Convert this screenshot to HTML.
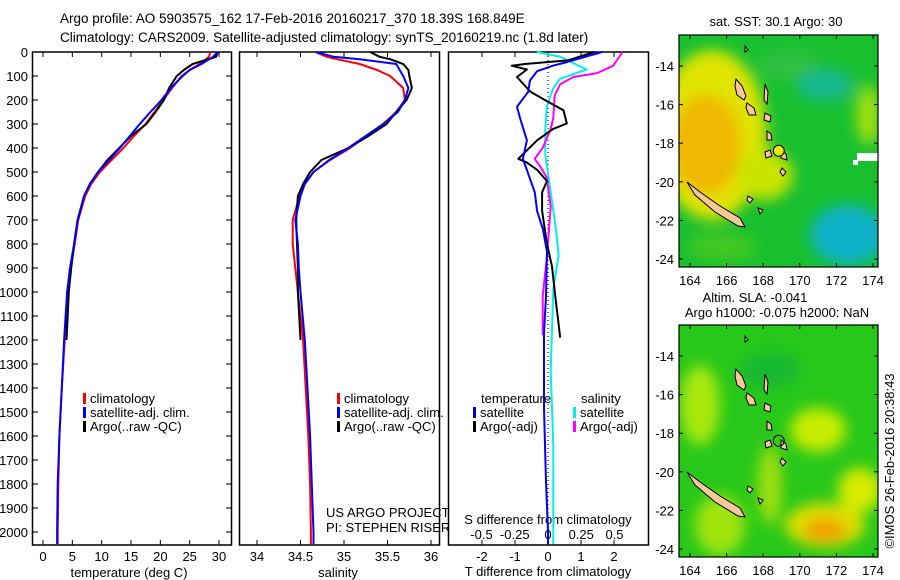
<!DOCTYPE html>
<html><head><meta charset="utf-8">
<style>
html,body{margin:0;padding:0;background:#fff;}
svg{display:block;font-family:"Liberation Sans",sans-serif;}
text{fill:#000;}
</style></head>
<body>
<svg id="fig" width="900" height="580" viewBox="0 0 900 580" xmlns="http://www.w3.org/2000/svg">
<defs>
<filter id="blur6" x="-50%" y="-50%" width="200%" height="200%"><feGaussianBlur stdDeviation="7"/></filter>
<clipPath id="clipMap1"><rect x="679" y="35" width="199" height="232"/></clipPath>
<clipPath id="clipMap2"><rect x="679" y="325" width="199" height="232"/></clipPath>
</defs>
<text x="60" y="23" font-size="13.5">Argo profile: AO 5903575_162 17-Feb-2016 20160217_370 18.39S 168.849E</text>
<text x="60" y="42" font-size="13.5">Climatology: CARS2009. Satellite-adjusted climatology: synTS_20160219.nc (1.8d later)</text>
<g id="g1"></g>
<g id="g2"></g>
<g id="g3"></g>
<g id="g4"></g>
<g id="g5"></g>
<text transform="translate(894,461) rotate(-90)" text-anchor="middle" font-size="13">©IMOS 26-Feb-2016 20:38:43</text>
</svg>
<script>
// ---- data ----
const depthT = [0,20,50,75,100,150,200,250,300,350,400,450,500,550,600,700,800,900,1000,1200,1400,1600,1800,2000,2050];
const tempClim = [28.5,28.3,26.7,25,23.6,22,20.5,19,17.5,15.5,13.7,11.7,9.7,8.2,7.2,6,5.4,4.7,4.2,3.7,3.2,2.8,2.6,2.5,2.5];
const tempSat = [29.8,29,27,25,23.8,21.8,20.2,18.3,16.5,14.8,13.1,11.3,9.4,8,7,5.9,5.3,4.6,4.1,3.6,3.2,2.8,2.5,2.4,2.4];
const depthTArgo = [0,20,50,75,100,150,200,250,300,350,400,450,500,550,600,700,800,900,1000,1200];
const tempArgo = [29.8,29.5,25.5,24,22.8,21.5,20.6,19.2,17.6,15,13,11,9.4,8,7,5.9,5.3,4.8,4.4,4.0];
const depthS = [0,20,30,50,75,100,150,200,250,300,350,400,450,500,550,600,700,800,900,1000,1200,1400,1600,1800,2000,2050];
const salClim = [34.67,34.8,34.92,35.18,35.38,35.53,35.68,35.7,35.6,35.45,35.26,35.07,34.84,34.65,34.55,34.49,34.41,34.41,34.44,34.47,34.53,34.56,34.59,34.61,34.62,34.62];
const salSat = [34.68,34.88,35.18,35.6,35.64,35.68,35.74,35.7,35.62,35.45,35.25,35.05,34.83,34.65,34.55,34.5,34.44,34.47,34.48,34.5,34.55,34.58,34.61,34.63,34.65,34.65];
const depthSArgo = [0,20,30,50,75,100,150,200,250,300,350,400,450,500,550,600,700,800,900,1000,1200];
const salArgo = [35.3,35.41,35.53,35.68,35.74,35.75,35.78,35.72,35.6,35.49,35.28,35.05,34.74,34.61,34.53,34.47,34.45,34.46,34.47,34.47,34.5];
const depthDTsat = [0,42,57,80,119,166,228,275,368,445,507,585,662,740,832,1018,1172,1483,1792,1993,2050];
const dTsat = [1.64,0.57,0.15,-0.33,-0.55,-0.6,-0.94,-0.85,-0.64,-0.76,-0.6,-0.4,-0.33,-0.15,-0.03,-0.06,-0.12,-0.12,-0.06,0,0];
const depthDTargo = [0,35,50,57,73,104,166,205,243,298,321,368,445,461,491,538,584,662,800,893,1018,1190];
const dTargo = [1.4,0.6,-0.7,-1.1,-0.64,-0.94,-0.53,-0.03,0.47,0.57,0.15,-0.33,-0.9,-0.64,-0.33,-0.03,-0.18,-0.18,-0.03,0.12,0.22,0.37];
const depthDSsat = [0,19,73,112,150,228,321,430,584,740,848,987,1328,1638,1993,2050];
const dSsat = [-0.085,0.09,0.29,0.09,0.04,-0.01,-0.02,-0.02,0.02,0.06,0.08,0.04,0.02,0.04,0.04,0.04];
const depthDSargo = [0,57,88,104,135,182,275,321,399,445,476,522,646,863,1018,1180];
const dSargo = [0.56,0.49,0.37,0.19,0.09,0.05,0.04,0.02,-0.04,-0.1,-0.06,-0.01,0.02,-0.01,-0.04,-0.04];
const depthTicks = [0,100,200,300,400,500,600,700,800,900,1000,1100,1200,1300,1400,1500,1600,1700,1800,1900,2000];
const tempTicks = [0,5,10,15,20,25,30];
const salTicks = [34,34.5,35,35.5,36];
const dTTicks = [-2,-1,0,1,2];
const dSTicks = [-0.5,-0.25,0,0.25,0.5];
const lonTicks = [164,166,168,170,172,174];
const latTicks = [-14,-16,-18,-20,-22,-24];

// ---- scales ----
const NS='http://www.w3.org/2000/svg';
const yD = d => 52 + d*0.24;
const xT = t => 43 + t*5.867;
const xS = s => 257 + (s-34)*87;
const xDT = v => 548 + v*33;
const xDS = v => 548 + v*133;
function el(parent, tag, attrs, txt){const e=document.createElementNS(NS,tag);for(const k in attrs)e.setAttribute(k,attrs[k]);if(txt!==undefined)e.textContent=txt;parent.appendChild(e);return e;}
function line(g, xs, ds, fx, color, name){
  const p = xs.map((v,i)=>fx(v).toFixed(1)+','+yD(ds[i]).toFixed(1)).join(' ');
  const e = el(g,'polyline',{points:p,fill:'none',stroke:color,'stroke-width':2,'stroke-linejoin':'round'});
  
  
}
function frame(g,x,w,name){const r=el(g,'rect',{x:x,y:52,width:w,height:493,fill:'none',stroke:'#000','stroke-width':1.5});
  
  }

// panel 1
const g1=document.getElementById('g1');
frame(g1,32.5,199,'temperature-plot-area');
depthTicks.forEach(d=>{
  el(g1,'line',{x1:32,x2:38,y1:yD(d),y2:yD(d),stroke:'#000'});
  el(g1,'line',{x1:226,x2:232,y1:yD(d),y2:yD(d),stroke:'#000'});
  const t=el(g1,'text',{x:28,y:yD(d)+5,'text-anchor':'end','font-size':13},String(d));
  
  
});
tempTicks.forEach(v=>{
  el(g1,'line',{x1:xT(v),x2:xT(v),y1:52,y2:57,stroke:'#000'});
  el(g1,'line',{x1:xT(v),x2:xT(v),y1:540,y2:545,stroke:'#000'});
  const t=el(g1,'text',{x:xT(v),y:561,'text-anchor':'middle','font-size':13},String(v));
  
  
});
el(g1,'text',{x:129,y:577,'text-anchor':'middle','font-size':13},'temperature (deg C)');
line(g1,tempClim,depthT,xT,'#f00','temp-climatology-line');
line(g1,tempArgo,depthTArgo,xT,'#000','temp-argo-line');
line(g1,tempSat,depthT,xT,'#00f','temp-satellite-line');

// panel 2
const g2=document.getElementById('g2');
frame(g2,239.5,200,'salinity-plot-area');
salTicks.forEach(v=>{
  el(g2,'line',{x1:xS(v),x2:xS(v),y1:52,y2:57,stroke:'#000'});
  el(g2,'line',{x1:xS(v),x2:xS(v),y1:540,y2:545,stroke:'#000'});
  const t=el(g2,'text',{x:xS(v),y:561,'text-anchor':'middle','font-size':13},String(v));
  
  
});
el(g2,'text',{x:338,y:577,'text-anchor':'middle','font-size':13},'salinity');
line(g2,salClim,depthS,xS,'#f00','sal-climatology-line');
line(g2,salArgo,depthSArgo,xS,'#000','sal-argo-line');
line(g2,salSat,depthS,xS,'#00f','sal-satellite-line');
el(g2,'text',{x:326,y:517,'font-size':13},'US ARGO PROJECT');
el(g2,'text',{x:326,y:532,'font-size':13},'PI: STEPHEN RISER');

// legends
function legend(g,x,y,color,label,name){
  el(g,'rect',{x:x,y:y-10,width:3,height:11,fill:color});
  const t=el(g,'text',{x:x+7,y:y,'font-size':13},label);
  
  
}
legend(g1,83,403,'#f00','climatology','legend-climatology');
legend(g1,83,417,'#00f','satellite-adj. clim.','legend-satellite-adj');
legend(g1,83,431,'#000','Argo(..raw -QC)','legend-argo');
legend(g2,337,403,'#f00','climatology','legend-climatology');
legend(g2,337,417,'#00f','satellite-adj. clim.','legend-satellite-adj');
legend(g2,337,431,'#000','Argo(..raw -QC)','legend-argo');

// panel 3
const g3=document.getElementById('g3');
frame(g3,448.5,200,'difference-plot-area');
el(g3,'line',{x1:548,x2:548,y1:52,y2:545,stroke:'#000','stroke-dasharray':'1,3'});
dTTicks.forEach(v=>{
  el(g3,'line',{x1:xDT(v),x2:xDT(v),y1:52,y2:57,stroke:'#000'});
  el(g3,'line',{x1:xDT(v),x2:xDT(v),y1:540,y2:545,stroke:'#000'});
  const t=el(g3,'text',{x:xDT(v),y:561,'text-anchor':'middle','font-size':13},String(v));
  
  
});
dSTicks.forEach(v=>{
  const t=el(g3,'text',{x:xDS(v),y:539,'text-anchor':'middle','font-size':13},String(v));
  
  
});
el(g3,'text',{x:548,y:524,'text-anchor':'middle','font-size':13},'S difference from climatology');
el(g3,'text',{x:548,y:576,'text-anchor':'middle','font-size':13},'T difference from climatology');
line(g3,dSsat,depthDSsat,xDS,'#0ee','ds-satellite-line');
line(g3,dSargo,depthDSargo,xDS,'#f0f','ds-argo-line');
line(g3,dTargo,depthDTargo,xDT,'#000','dt-argo-line');
line(g3,dTsat,depthDTsat,xDT,'#00f','dt-satellite-line');
el(g3,'text',{x:481,y:403,'font-size':13},'temperature');
el(g3,'text',{x:581,y:403,'font-size':13},'salinity');
legend(g3,473,417,'#00f','satellite','legend-t-satellite');
legend(g3,473,431,'#000','Argo(-adj)','legend-t-argo');
legend(g3,573,417,'#0ee','satellite','legend-s-satellite');
legend(g3,573,431,'#f0f','Argo(-adj)','legend-s-argo');

// maps
const xLon = v => 690 + (v-164)*18.3;
function drawMap(g, top, kind){
  const yLat = v => top + 31 + (-14 - v)*19.3;
  const clip = kind==='sst' ? 'url(#clipMap1)' : 'url(#clipMap2)';
  const c = el(g,'g',{'clip-path':clip});
  if(kind==='sst'){
    el(c,'rect',{x:679,y:top,width:199,height:232,fill:'#18c030'});
    const b=el(c,'g',{filter:'url(#blur6)'});
    el(b,'ellipse',{cx:712,cy:top+100,rx:55,ry:85,fill:'#e0e400'});
    el(b,'ellipse',{cx:706,cy:top+110,rx:35,ry:50,fill:'#f0b800'});
    el(b,'ellipse',{cx:765,cy:top+140,rx:28,ry:25,fill:'#c8e400'});
    el(b,'ellipse',{cx:790,cy:top+30,rx:30,ry:15,fill:'#30c040'});
    el(b,'ellipse',{cx:825,cy:top+50,rx:28,ry:16,fill:'#14b890'});
    el(b,'ellipse',{cx:848,cy:top+200,rx:38,ry:30,fill:'#10b0c8'});
    el(b,'ellipse',{cx:868,cy:top+80,rx:12,ry:30,fill:'#a0e010'});
    el(b,'ellipse',{cx:722,cy:top+212,rx:35,ry:15,fill:'#40c820'});
    el(c,'rect',{x:857,y:top+118,width:21,height:8,fill:'#fff'});
    el(c,'rect',{x:853,y:top+125,width:5,height:5,fill:'#fff'});
  } else {
    el(c,'rect',{x:679,y:top,width:199,height:232,fill:'#28c81a'});
    const b=el(c,'g',{filter:'url(#blur6)'});
    el(b,'ellipse',{cx:700,cy:top+80,rx:20,ry:40,fill:'#a8e810'});
    el(b,'ellipse',{cx:720,cy:top+200,rx:25,ry:30,fill:'#a0e410'});
    el(b,'ellipse',{cx:818,cy:top+105,rx:28,ry:22,fill:'#c8ec00'});
    el(b,'ellipse',{cx:860,cy:top+165,rx:22,ry:22,fill:'#d8ec00'});
    el(b,'ellipse',{cx:770,cy:top+160,rx:12,ry:40,fill:'#a0e010'});
    el(b,'ellipse',{cx:825,cy:top+200,rx:40,ry:22,fill:'#e0e000'});
    el(b,'ellipse',{cx:825,cy:top+205,rx:22,ry:12,fill:'#f0a000'});
    el(b,'ellipse',{cx:770,cy:top+45,rx:30,ry:18,fill:'#18b830'});
  }
  // islands
  const isl = [
    [[687,182],[700,192],[720,206],[740,218],[745,227],[738,226],[715,212],[695,195]],
    [[736,79],[742,86],[746,96],[744,100],[737,95],[735,86]],
    [[747,103],[754,108],[756,115],[749,115],[746,108]],
    [[765,84],[768,92],[767,104],[764,100]],
    [[765,113],[771,116],[770,122],[764,120]],
    [[767,131],[771,134],[772,140],[767,140]],
    [[765,152],[770,150],[772,156],[766,158]],
    [[781,150],[786,154],[787,160],[781,158]],
    [[782,168],[786,172],[783,176],[780,172]],
    [[748,196],[753,199],[750,203],[747,200]],
    [[758,208],[763,210],[760,214]],
    [[745,46],[748,50],[745,52]]
  ];
  isl.forEach(pts=>{
    const p = pts.map(q=>q[0]+','+(q[1]-35+top)).join(' ');
    el(c,'polygon',{points:p,fill:'#f8c898',stroke:'#000','stroke-width':1});
  });
  const circ = el(c,'circle',{cx:xLon(168.849),cy:yLat(-18.39),r:5.5,fill:kind==='sst'?'#e8e800':'none',stroke:'#000','stroke-width':1});
  
  
  el(g,'rect',{x:679,y:top,width:199,height:232,fill:'none',stroke:'#000','stroke-width':1.2});
  lonTicks.forEach(v=>{
    el(g,'line',{x1:xLon(v),x2:xLon(v),y1:top,y2:top+4,stroke:'#000'});
    el(g,'line',{x1:xLon(v),x2:xLon(v),y1:top+228,y2:top+232,stroke:'#000'});
    const t=el(g,'text',{x:xLon(v),y:top+250,'text-anchor':'middle','font-size':13},String(v));
    
    
  });
  latTicks.forEach(v=>{
    el(g,'line',{x1:679,x2:683,y1:yLat(v),y2:yLat(v),stroke:'#000'});
    el(g,'line',{x1:874,x2:878,y1:yLat(v),y2:yLat(v),stroke:'#000'});
    const t=el(g,'text',{x:674,y:yLat(v)+5,'text-anchor':'end','font-size':13},String(v));
    
    
  });
}
const g4=document.getElementById('g4');
drawMap(g4,35,'sst');
el(g4,'text',{x:776,y:26,'text-anchor':'middle','font-size':13},'sat. SST: 30.1  Argo: 30');
const g5=document.getElementById('g5');
drawMap(g5,325,'sla');
el(g5,'text',{x:755,y:302,'text-anchor':'middle','font-size':13},'Altim. SLA: -0.041');
el(g5,'text',{x:777,y:317,'text-anchor':'middle','font-size':13},'Argo h1000: -0.075 h2000: NaN');
</script>
</body></html>
